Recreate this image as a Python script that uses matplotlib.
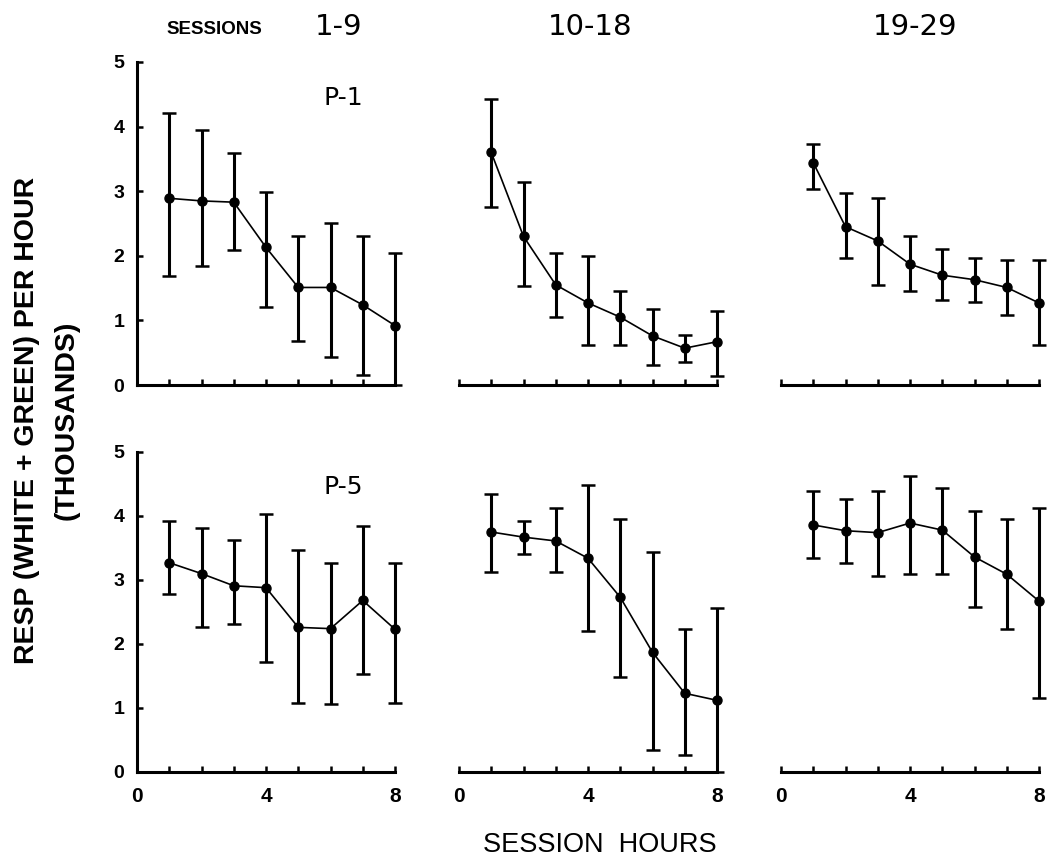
import matplotlib
matplotlib.use("Agg")
import matplotlib.pyplot as plt

hours = [1, 2, 3, 4, 5, 6, 7, 8]
blocks = ["1-9", "10-18", "19-29"]
birds = ["P-1", "P-5"]

# P-1, sessions 1-9 / 10-18 / 19-29 (thousands of responses per hour)
p1_mean_a = [2.89, 2.85, 2.83, 2.13, 1.51, 1.51, 1.24, 0.92]
p1_hi_a = [4.21, 3.94, 3.59, 2.98, 2.30, 2.51, 2.30, 2.04]
p1_lo_a = [1.68, 1.84, 2.09, 1.20, 0.68, 0.44, 0.15, 0.00]

p1_mean_b = [3.60, 2.30, 1.55, 1.27, 1.05, 0.76, 0.57, 0.67]
p1_hi_b = [4.42, 3.14, 2.04, 1.99, 1.46, 1.17, 0.77, 1.15]
p1_lo_b = [2.76, 1.53, 1.06, 0.62, 0.62, 0.31, 0.35, 0.14]

p1_mean_c = [3.44, 2.45, 2.23, 1.87, 1.70, 1.63, 1.51, 1.27]
p1_hi_c = [3.73, 2.97, 2.89, 2.30, 2.11, 1.96, 1.94, 1.94]
p1_lo_c = [3.04, 1.97, 1.55, 1.46, 1.31, 1.29, 1.09, 0.62]

# P-5
p5_mean_a = [3.27, 3.10, 2.91, 2.88, 2.26, 2.24, 2.68, 2.23]
p5_hi_a = [3.92, 3.82, 3.62, 4.03, 3.47, 3.26, 3.84, 3.26]
p5_lo_a = [2.78, 2.27, 2.31, 1.72, 1.08, 1.06, 1.53, 1.08]

p5_mean_b = [3.75, 3.67, 3.61, 3.34, 2.73, 1.87, 1.23, 1.12]
p5_hi_b = [4.34, 3.92, 4.12, 4.48, 3.96, 3.43, 2.23, 2.57]
p5_lo_b = [3.13, 3.41, 3.12, 2.20, 1.48, 0.35, 0.26, 0.00]

p5_mean_c = [3.86, 3.77, 3.74, 3.89, 3.78, 3.36, 3.09, 2.67]
p5_hi_c = [4.39, 4.27, 4.39, 4.63, 4.44, 4.08, 3.95, 4.12]
p5_lo_c = [3.35, 3.27, 3.07, 3.10, 3.10, 2.58, 2.23, 1.15]

y_ticks = [0, 1, 2, 3, 4, 5]
x_ticks = [0, 1, 2, 3, 4, 5, 6, 7, 8]
x_labels = ["0", "", "", "", "4", "", "", "", "8"]

FONT = ["Liberation Sans", "DejaVu Sans"]
W, H = 1049, 861

plt.rcParams["font.family"] = FONT
plt.rcParams["font.weight"] = "bold"


def draw_panel(ax, mean, hi, lo, first_col, bottom_row):
    yerr = [[m - l for m, l in zip(mean, lo)], [h - m for m, h in zip(mean, hi)]]
    ax.plot(hours, mean, color="black", lw=1.2, clip_on=False, zorder=3)
    cont = ax.errorbar(hours, mean, yerr=yerr, fmt="o", color="black", ms=6.5,
                       elinewidth=2.2, capsize=5, capthick=1.8, zorder=4)
    for art in cont.lines[1] + cont.lines[2]:
        art.set_clip_on(False)
    cont.lines[0].set_clip_on(False)

    ax.set_xlim(0, 8)
    ax.set_ylim(0, 5)
    ax.spines["top"].set_visible(False)
    ax.spines["right"].set_visible(False)
    ax.spines["bottom"].set_linewidth(2.2)
    ax.spines["left"].set_linewidth(2.2)
    ax.set_xticks(x_ticks)
    if bottom_row:
        ax.set_xticklabels(x_labels)
    else:
        ax.set_xticklabels([])
    ax.tick_params(axis="x", direction="in", length=4, width=1.8, pad=11,
                   labelsize=15)
    if first_col:
        ax.set_yticks(y_ticks)
        ax.set_yticklabels([str(v) for v in y_ticks])
        ax.tick_params(axis="y", direction="in", length=4, width=1.8, pad=9,
                       labelsize=14)
    else:
        ax.spines["left"].set_visible(False)
        ax.set_yticks([])
    for lab in ax.get_xticklabels() + ax.get_yticklabels():
        lab.set_fontweight("bold")


def main():
    fig = plt.figure(figsize=(W / 100, H / 100), dpi=100)

    lefts = [137, 459, 781]
    panel_w = 258
    rows = [(62, 385), (452, 772)]  # (top px, bottom px)

    data = [
        [(p1_mean_a, p1_hi_a, p1_lo_a), (p1_mean_b, p1_hi_b, p1_lo_b), (p1_mean_c, p1_hi_c, p1_lo_c)],
        [(p5_mean_a, p5_hi_a, p5_lo_a), (p5_mean_b, p5_hi_b, p5_lo_b), (p5_mean_c, p5_hi_c, p5_lo_c)],
    ]

    for r, (top, bot) in enumerate(rows):
        for c, left in enumerate(lefts):
            ax = fig.add_axes([left / W, 1 - bot / H, panel_w / W, (bot - top) / H])
            mean, hi, lo = data[r][c]
            draw_panel(ax, mean, hi, lo, c == 0, r == 1)
            if c == 0:
                ax.text(6.4, 4.45, birds[r], fontsize=18, family="DejaVu Sans",
                        fontweight="normal", ha="center", va="center")

    # column headers
    fig.text(214 / W, 1 - 29 / H, "SESSIONS", fontsize=13.5, fontweight="bold",
             ha="center", va="center")
    centers = [339, 590, 915]
    for cx, lab in zip(centers, blocks):
        fig.text(cx / W, 1 - 27 / H, lab, fontsize=21, family="DejaVu Sans",
                 fontweight="normal", ha="center", va="center")

    # axis titles
    fig.text(27 / W, 1 - 420 / H, "RESP (WHITE + GREEN) PER HOUR", rotation=90,
             fontsize=20.5, fontweight="bold", ha="center", va="center")
    fig.text(67 / W, 1 - 420 / H, "(THOUSANDS)", rotation=90,
             fontsize=20.5, fontweight="bold", ha="center", va="center")
    fig.text(600 / W, 9 / H, "SESSION  HOURS", fontsize=19.5, fontweight="normal",
             ha="center", va="baseline")

    fig.savefig("out.png", dpi=100)


if __name__ == "__main__":
    main()
